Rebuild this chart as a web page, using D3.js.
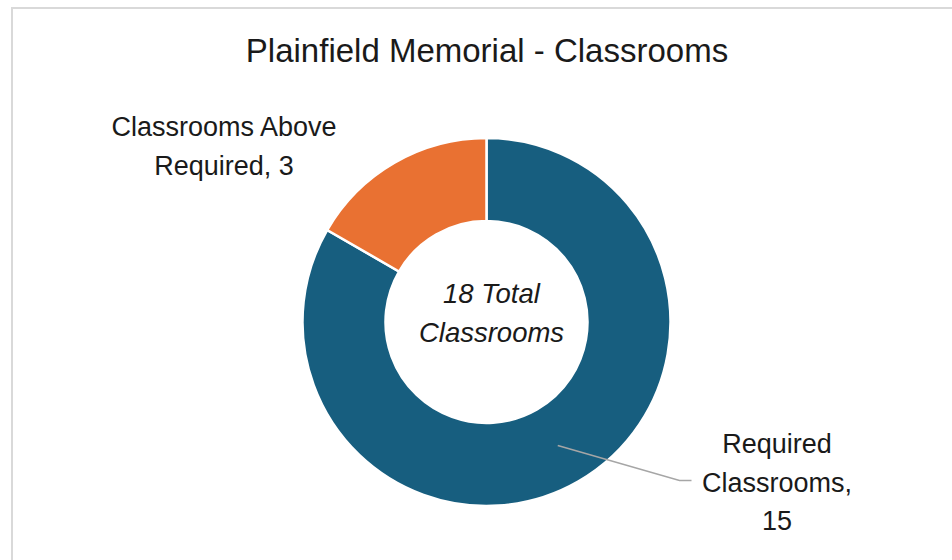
<!DOCTYPE html>
<html>
<head>
<meta charset="utf-8">
<script src="https://cdn.jsdelivr.net/npm/d3@7"></script>
<style>
  body { margin: 0; background: #fff; }
  svg { display: block; font-family: "Liberation Sans", Arial, sans-serif; }
</style>
</head>
<body>
<svg id="chart" width="952" height="560"></svg>
<script>
const title = "Plainfield Memorial - Classrooms";
const categories = ["Required Classrooms", "Classrooms Above Required"];
const values = [15, 3];
const colors = ["#175E7F", "#E97132"];
const centerLines = ["18 Total", "Classrooms"];

const width = 952;
const height = 560;
const svg = d3.select("#chart");

// chart frame, only top and left edges land inside the window
svg.append("rect")
  .attr("x", 12)
  .attr("y", 8)
  .attr("width", 960)
  .attr("height", 600)
  .attr("fill", "none")
  .attr("stroke", "#d9d9d9")
  .attr("stroke-width", 2);

svg.append("text")
  .attr("x", 487)
  .attr("y", 62)
  .attr("text-anchor", "middle")
  .attr("font-size", 33)
  .attr("fill", "#1a1a1a")
  .text(title);

const cx = 486.5, cy = 322;
const outerR = 184, innerR = 101;

const pie = d3.pie().sort(null).value(d => d.value);
const arc = d3.arc().innerRadius(innerR).outerRadius(outerR);

const data = categories.map((c, i) => ({ name: c, value: values[i], color: colors[i] }));
const arcs = pie(data);

const g = svg.append("g").attr("transform", `translate(${cx},${cy})`);

g.selectAll("path")
  .data(arcs)
  .join("path")
  .attr("d", arc)
  .attr("fill", d => d.data.color)
  .attr("stroke", "#fff")
  .attr("stroke-width", 2.5);

// text in the hole
g.selectAll("text.center")
  .data(centerLines)
  .join("text")
  .attr("class", "center")
  .attr("x", 5)
  .attr("y", (d, i) => -19 + i * 39)
  .attr("text-anchor", "middle")
  .attr("font-size", 27.5)
  .attr("font-style", "italic")
  .attr("fill", "#1a1a1a")
  .text(d => d);

// leader line from slice centroid to the right label
const c0 = arc.centroid(arcs[0]);
const elbowY = c0[1] + 35;
g.append("polyline")
  .attr("points", [c0, [193, elbowY], [205, elbowY]].map(p => p.join(",")).join(" "))
  .attr("fill", "none")
  .attr("stroke", "#a6a6a6")
  .attr("stroke-width", 1.5);

const labelFont = 27;
const rightLabel = ["Required", "Classrooms,", String(values[0])];
svg.append("g")
  .selectAll("text")
  .data(rightLabel)
  .join("text")
  .attr("x", 777)
  .attr("y", (d, i) => 453 + i * 38.5)
  .attr("text-anchor", "middle")
  .attr("font-size", labelFont)
  .attr("fill", "#1a1a1a")
  .text(d => d);

const leftLabel = ["Classrooms Above", "Required, " + values[1]];
svg.append("g")
  .selectAll("text")
  .data(leftLabel)
  .join("text")
  .attr("x", 224)
  .attr("y", (d, i) => 136 + i * 39)
  .attr("text-anchor", "middle")
  .attr("font-size", labelFont)
  .attr("fill", "#1a1a1a")
  .text(d => d);
</script>
</body>
</html>
